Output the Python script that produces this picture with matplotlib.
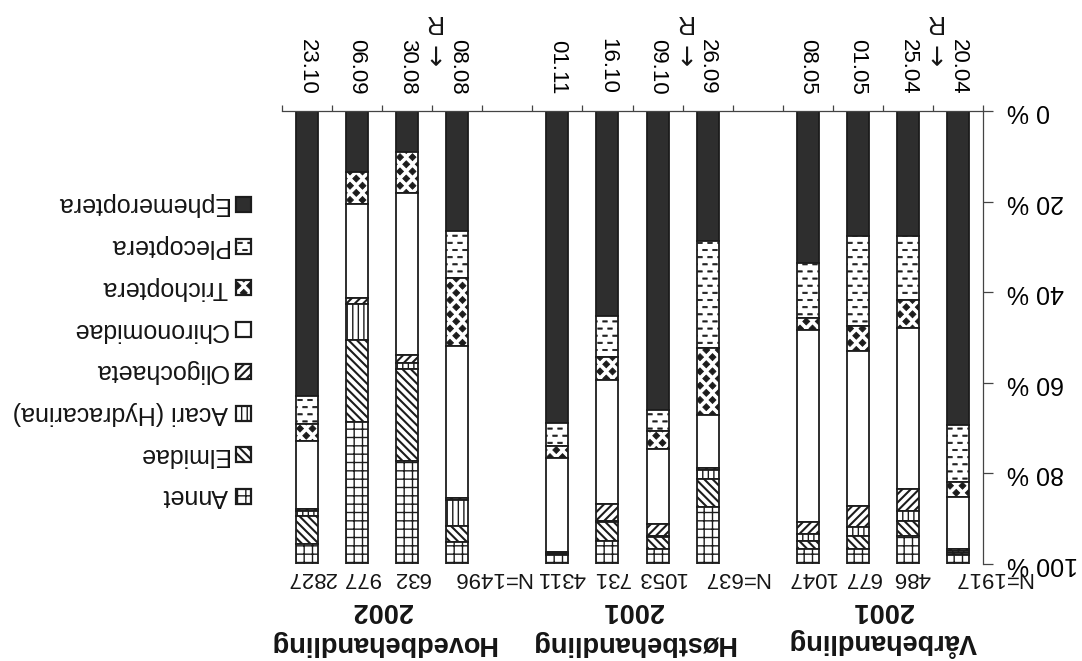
import warnings
import numpy as np
import matplotlib
matplotlib.use('Agg')
import matplotlib.pyplot as plt
import matplotlib.hatch as mhatch
from matplotlib.path import Path
from matplotlib.patches import Rectangle
from matplotlib.transforms import offset_copy, blended_transform_factory

# custom hatch letters ('d', 'b') are not in matplotlib's list of known ones
warnings.filterwarnings('ignore', message='hatch must consist')

# sampling dates, three treatment periods of four samples each
dates = ['20.04', '25.04', '01.05', '08.05',
         '26.09', '09.10', '16.10', '01.11',
         '08.08', '30.08', '06.09', '23.10']
n_counts = [1917, 486, 677, 1047,
            637, 1053, 731, 4311,
            1496, 632, 977, 2827]
group_names = ['Vårbehandling', 'Høstbehandling', 'Hovedbehandling']
group_years = ['2001', '2001', '2002']

# share of each taxon (%) per sample, stacked from 0 %
taxa = ['Ephemeroptera', 'Plecoptera', 'Trichoptera', 'Chironomidae',
        'Oligochaeta', 'Acari (Hydracarina)', 'Elmidae', 'Annet']
ephemeroptera = [69.4, 27.6, 27.6, 33.5, 28.6, 66.0, 45.3, 68.8, 26.6, 9.0, 13.4, 63.0]
plecoptera = [12.5, 14.1, 19.9, 12.2, 23.7, 4.7, 9.1, 5.2, 10.3, 0.0, 0.0, 6.2]
trichoptera = [3.2, 6.2, 5.5, 2.6, 14.9, 4.0, 4.9, 2.5, 15.0, 9.2, 7.1, 3.7]
chironomidae = [11.6, 35.6, 34.3, 42.4, 11.7, 16.5, 27.5, 20.8, 33.6, 35.6, 20.8, 15.0]
oligochaeta = [0.5, 4.8, 4.6, 2.7, 0.3, 2.6, 3.7, 0.3, 0.3, 1.8, 1.3, 0.3]
acari = [0.3, 2.2, 1.9, 1.5, 2.1, 0.3, 0.3, 0.2, 5.8, 1.3, 8.0, 1.2]
elmidae = [0.5, 3.3, 2.9, 1.8, 6.2, 2.6, 4.1, 0.3, 3.6, 20.4, 18.1, 6.2]
annet = [2.0, 6.2, 3.3, 3.3, 12.5, 3.3, 5.1, 1.9, 4.8, 22.7, 31.3, 4.4]
shares = [ephemeroptera, plecoptera, trichoptera, chironomidae,
          oligochaeta, acari, elmidae, annet]

y_ticks = [0, 20, 40, 60, 80, 100]


class StaggeredShapes(mhatch.HatchPatternBase):
    """Filled shapes in staggered rows, triggered by one hatch letter."""
    char = ''
    cols = 8
    rows = 14
    half_w = 0.035
    half_h = 0.035
    shape = np.array([[0, 1], [1, 0], [0, -1], [-1, 0], [0, 1]], float)

    def __init__(self, hatch, density):
        n = hatch.count(self.char) if self.char else 0
        self.n_cols = self.cols * n
        self.n_rows = self.rows * n
        if n == 0:
            self.num_vertices = 0
        else:
            self.num_vertices = ((self.n_rows + 1) * (self.n_cols + 1)
                                 * len(self.shape))

    def set_vertices_and_codes(self, vertices, codes):
        dx = 1.0 / self.n_cols
        dy = 1.0 / self.n_rows
        unit = self.shape * [self.half_w, self.half_h]
        parts = []
        for row in range(self.n_rows + 1):
            shift = dx / 2 if row % 2 else 0.0
            for x in np.linspace(0, 1, self.n_cols + 1):
                parts.append(unit + [x + shift, row * dy])
        vertices[:] = np.concatenate(parts)
        one = np.full(len(self.shape), Path.LINETO, dtype=Path.code_type)
        one[0] = Path.MOVETO
        one[-1] = Path.CLOSEPOLY
        codes[:] = np.tile(one, len(parts))


class DiamondHatch(StaggeredShapes):
    char = 'd'


class DashHatch(StaggeredShapes):
    char = 'b'
    cols = 10
    rows = 14
    half_w = 0.022
    half_h = 0.006
    shape = np.array([[-1, -1], [1, -1], [1, 1], [-1, 1], [-1, -1]], float)


mhatch._hatch_types.extend([DiamondHatch, DashHatch])

# fill, hatch and hatch line width per taxon
fills = ['#2e2e2e', 'white', 'white', 'white', 'white', 'white', 'white', 'white']
hatches = [None, 'b', 'd', None, '////', '|||', '\\\\\\\\', '++']
hatch_widths = [1.0, 0.6, 0.6, 1.0, 1.5, 1.0, 1.5, 1.0]

plt.rcParams['font.family'] = ['Liberation Sans', 'DejaVu Sans']
plt.rcParams['text.color'] = '#151515'

W, H = 1082, 661
fig = plt.figure(figsize=(W / 100, H / 100), dpi=100)
ax = fig.add_axes([282 / W, (H - 564) / H, 701 / W, 453 / H])

# four bars per treatment, one empty slot between treatments
positions = [g * 5 + k for g in range(3) for k in range(4)]

bottom = np.zeros(len(dates))
for vals, fc, hatch, hlw in zip(shares, fills, hatches, hatch_widths):
    with plt.rc_context({'hatch.linewidth': hlw}):
        bars = ax.bar(positions, vals, bottom=bottom, width=0.44, color=fc,
                      edgecolor='#1c1c1c', linewidth=1.3, hatch=hatch)
    for b in bars:
        if hasattr(b, 'set_hatch_linewidth'):
            b.set_hatch_linewidth(hlw)
    bottom += np.array(vals)

ax.set_xlim(13.5, -0.5)
ax.set_ylim(100, 0)
for side in ['left', 'bottom']:
    ax.spines[side].set_visible(False)
for side in ['top', 'right']:
    ax.spines[side].set_color('#444444')
    ax.spines[side].set_linewidth(0.9)

# y axis on the right, labels turned upside down
ax.yaxis.tick_right()
ax.set_yticks(y_ticks)
ax.set_yticklabels([f'{v} %' for v in y_ticks], rotation=180, va='center')
ax.tick_params(axis='y', direction='out', length=7, width=0.9,
               color='#444444', pad=10, labelsize=18)

# dates along the top, slot boundaries as minor ticks
ax.xaxis.tick_top()
ax.set_xticks(positions)
ax.set_xticklabels(dates)
ax.set_xticks(np.arange(-0.5, 14.0, 1.0), minor=True)
ax.tick_params(axis='x', which='major', length=0, pad=12,
               labelrotation=270, labelsize=16)
ax.tick_params(axis='x', which='minor', direction='out', length=4,
               width=0.9, color='#444444')

# sample sizes under the bars; the first of each period carries "N="
for k, (x, n) in enumerate(zip(positions, n_counts)):
    if k % 4 == 0:
        tr = offset_copy(ax.transData, fig=fig, x=-5, y=-3, units='dots')
        ax.text(x, 100, f'N={n}', transform=tr, rotation=180, ha='left',
                va='top', fontsize=16)
    else:
        tr = offset_copy(ax.transData, fig=fig, x=4, y=-3, units='dots')
        ax.text(x, 100, str(n), transform=tr, rotation=180, ha='center',
                va='top', fontsize=16)

# treatment names, R marks between the first two samples
tr_fig = blended_transform_factory(ax.transData, fig.transFigure)
for g, (name, year) in enumerate(zip(group_names, group_years)):
    xc = np.mean(positions[g * 4:g * 4 + 4])
    ax.text(xc, 1 - 610 / H, year, transform=tr_fig, rotation=180,
            ha='center', va='center', fontsize=19.5, fontweight='bold')
    ax.text(xc, 1 - 643 / H, name, transform=tr_fig, rotation=180,
            ha='center', va='center', fontsize=19.5, fontweight='bold')
    xr = positions[g * 4] + 0.5
    ax.text(xr, 1 - 22 / H, 'R', transform=tr_fig, rotation=180,
            ha='center', va='center', fontsize=18)
    ax.text(xr, 1 - 56 / H, '→', transform=tr_fig, rotation=270,
            ha='center', va='center', fontsize=19, fontfamily='DejaVu Sans')

# legend, drawn as boxes and labels in figure space
for i, (name, fc, hatch, hlw) in enumerate(zip(taxa, fills, hatches, hatch_widths)):
    yc = 204.5 + 41.7 * i
    with plt.rc_context({'hatch.linewidth': hlw}):
        box = Rectangle((236 / W, 1 - (yc + 7.5) / H), 15 / W, 15 / H,
                        transform=fig.transFigure, facecolor=fc,
                        edgecolor='#1c1c1c', linewidth=1.6, hatch=hatch)
    if hasattr(box, 'set_hatch_linewidth'):
        box.set_hatch_linewidth(hlw)
    fig.add_artist(box)
    fig.text(228 / W, 1 - yc / H, name, rotation=180, ha='right',
             va='center', fontsize=18)

fig.savefig('out.png', dpi=100)
